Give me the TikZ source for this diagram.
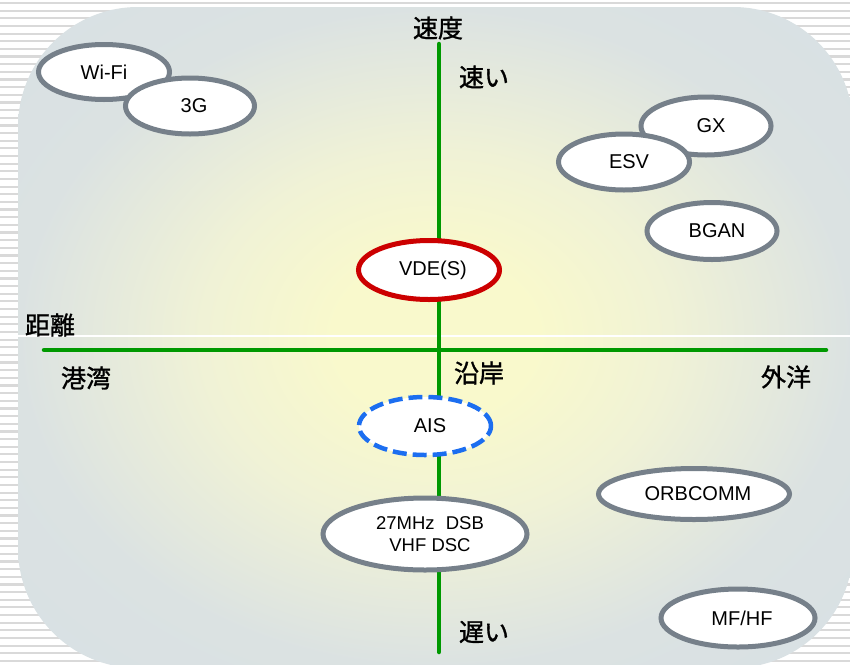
\documentclass[tikz,border=0pt]{standalone}
\usepackage{fontspec}
\setmainfont{Liberation Sans}
\newfontfamily\jp{Noto Sans CJK JP}[FakeBold=1.2]
\usetikzlibrary{shapes.geometric}
\definecolor{axisgreen}{RGB}{0,153,0}
\definecolor{ringgray}{RGB}{118,128,138}
\definecolor{ringred}{RGB}{204,0,0}
\definecolor{ringblue}{RGB}{28,110,240}
\definecolor{stripegray}{RGB}{217,217,217}
\definecolor{bgin}{RGB}{249,249,204}
\definecolor{bgmid}{RGB}{240,242,214}
\definecolor{bgout}{RGB}{219,226,226}
\definecolor{bgedge}{RGB}{212,221,232}
\pgfdeclareradialshading{bgshade}{\pgfpoint{0bp}{0bp}}{color(0bp)=(bgin); color(6bp)=(bgin); color(14bp)=(bgmid); color(25bp)=(bgout); color(50bp)=(bgedge)}
\tikzset{
  ring/.style={ellipse, draw=ringgray, line width=5pt, fill=white, inner sep=0pt,
    font=\fontsize{20}{22}\selectfont},
  axisline/.style={draw=axisgreen, line width=4.5pt, line cap=round},
  jplabel/.style={font=\jp\fontsize{25}{27}\selectfont, inner sep=0pt},
  stripe/.style={draw=stripegray, line width=2.2pt}
}
\begin{document}
\begin{tikzpicture}[x=1pt,y=-1pt]
\useasboundingbox (0,0) rectangle (850,664);
% striped backdrop
\fill[white] (0,0) rectangle (850,664);
\foreach \k in {0,...,86} {
  \draw[stripe] (0,{3+7.65*\k}) -- (850,{3+7.65*\k});
}
% rounded panel with radial gradient
\path[shading=bgshade, rounded corners=120pt] (18,7) rectangle (853,668);
\draw[white, line width=1.2pt] (18,336) -- (853,336);
% axes
\coordinate (vtop) at (439,44);
\coordinate (vbot) at (439,652);
\coordinate (hleft) at (44,350);
\coordinate (hright) at (826,350);
\draw[axisline] (vtop) -- (vbot);
\draw[axisline] (hleft) -- (hright);
% ellipses
\node[ring, minimum width=131pt, minimum height=55pt] (wifi) at (104,72) {Wi-Fi};
\node[ring, minimum width=129pt, minimum height=56pt] (g3) at (190,106) {\hspace*{8pt}3G};
\node[ring, minimum width=130pt, minimum height=58pt] (gx) at (706,126) {\hspace*{10pt}GX};
\node[ring, minimum width=131pt, minimum height=56pt] (esv) at (624,162) {\hspace*{10pt}ESV};
\node[ring, minimum width=130pt, minimum height=57pt] (bgan) at (712,231) {\hspace*{10pt}BGAN};
\node[ring, draw=ringred, minimum width=141pt, minimum height=59pt] (vde) at (429,270) {\hspace*{8pt}VDE(S)};
\node[ring, draw=ringblue, line width=4.5pt, dash pattern=on 14pt off 6pt,
      minimum width=132pt, minimum height=58pt] (ais) at (425,426) {\hspace*{10pt}AIS};
\node[ring, minimum width=204pt, minimum height=72pt, align=center,
      font=\fontsize{18.5}{22}\selectfont] (vhf) at (425,534) {\hspace*{10pt}27MHz\hspace{0.6em}DSB\\\hspace*{10pt}VHF DSC};
\node[ring, minimum width=191pt, minimum height=51pt] (orb) at (694,494) {\hspace*{8pt}ORBCOMM};
\node[ring, minimum width=154pt, minimum height=58pt] (mfhf) at (738,618) {\hspace*{8pt}MF/HF};
% axis labels
\node[jplabel] (speed) at (438,28) {速度};
\node[jplabel] (fast) at (484,77) {速い};
\node[jplabel] (slow) at (484,632) {遅い};
\node[jplabel] (dist) at (50,325) {距離};
\node[jplabel] (port) at (86,378) {港湾};
\node[jplabel] (coast) at (479,373) {沿岸};
\node[jplabel] (ocean) at (786,377) {外洋};
\end{tikzpicture}
\end{document}
